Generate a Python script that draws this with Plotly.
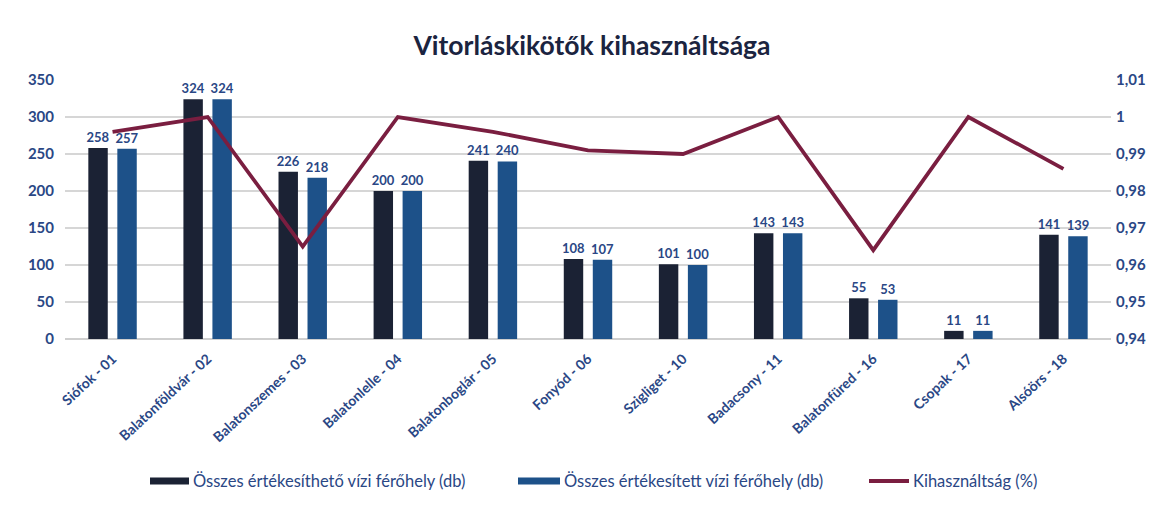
import plotly.graph_objects as go

categories = ["Siófok - 01", "Balatonföldvár - 02", "Balatonszemes - 03", "Balatonlelle - 04",
              "Balatonboglár - 05", "Fonyód - 06", "Szigliget - 10", "Badacsony - 11",
              "Balatonfüred - 16", "Csopak - 17", "Alsóörs - 18"]
available = [258, 324, 226, 200, 241, 108, 101, 143, 55, 11, 141]
sold = [257, 324, 218, 200, 240, 107, 100, 143, 53, 11, 139]
usage = [0.996, 1.0, 0.965, 1.0, 0.996, 0.991, 0.990, 1.0, 0.964, 1.0, 0.986]

left_ticks = [0, 50, 100, 150, 200, 250, 300, 350]
right_ticks = [0.94, 0.95, 0.96, 0.97, 0.98, 0.99, 1.0, 1.01]
right_ticktext = ["0,94", "0,95", "0,96", "0,97", "0,98", "0,99", "1", "1,01"]

names = ["Összes értékesíthető vízi férőhely (db)",
         "Összes értékesített vízi férőhely (db)",
         "Kihasználtság (%)"]
colors = ["#1b2234", "#1d5189", "#7a1e40"]

lab_col = "#2a4785"
FONT = "Lato"

W, H = 1159, 506
ML, MR, MT, MB = 65, 48, 80, 167
PW, PH = W - ML - MR, H - MT - MB


def px(x):
    return (x - ML) / PW


def py(y):
    return (H - MB - y) / PH


fig = go.Figure()
fig.add_trace(go.Bar(x=categories, y=available, name=names[0],
                     marker=dict(color=colors[0], line=dict(width=0)),
                     text=available, textposition="outside", constraintext="none",
                     textfont=dict(color=lab_col, size=13, family=FONT, weight=700),
                     cliponaxis=False))
fig.add_trace(go.Bar(x=categories, y=sold, name=names[1],
                     marker=dict(color=colors[1], line=dict(width=0)),
                     text=sold, textposition="outside", constraintext="none",
                     textfont=dict(color=lab_col, size=13, family=FONT, weight=700),
                     cliponaxis=False))
fig.add_trace(go.Scatter(x=categories, y=usage, name=names[2], yaxis="y2",
                         mode="lines", line=dict(color=colors[2], width=3.8)))

# legend drawn below the plot: wide symbols followed directly by the text
legend_items = [(150, 189, "rect"), (518, 560, "rect"), (869, 909, "line")]
ly = 481
for (x0, x1, kind), nm, col in zip(legend_items, names, colors):
    if kind == "rect":
        fig.add_shape(type="rect", xref="paper", yref="paper",
                      x0=px(x0), x1=px(x1), y0=py(ly + 3.5), y1=py(ly - 3.5),
                      fillcolor=col, line=dict(width=0))
    else:
        fig.add_shape(type="line", xref="paper", yref="paper",
                      x0=px(x0), x1=px(x1), y0=py(ly), y1=py(ly),
                      line=dict(color=col, width=4))
    fig.add_annotation(text=nm, xref="paper", yref="paper", x=px(x1 + 2), y=py(ly),
                       xanchor="left", yanchor="middle", showarrow=False,
                       font=dict(size=16.5, color=lab_col, family=FONT))

fig.update_layout(
    width=W, height=H,
    paper_bgcolor="white", plot_bgcolor="white",
    margin=dict(l=ML, r=MR, t=MT, b=MB),
    title=dict(text="<b>Vitorláskikötők kihasználtsága</b>", x=592 / W, xanchor="center",
               y=1 - 46 / H, yanchor="middle",
               font=dict(family=FONT, size=26.5, color="#1b2440")),
    barmode="group", bargap=0.39, bargroupgap=0.33,
    font=dict(family=FONT, color=lab_col),
    showlegend=False,
    xaxis=dict(tickangle=-43, tickfont=dict(size=14, color=lab_col, family=FONT, weight=700),
               showgrid=False, showline=False, ticks="", ticklabelstandoff=8),
    yaxis=dict(range=[0, 350], tickvals=left_ticks, showgrid=True, gridcolor="#d6d6d6",
               gridwidth=1.5, zeroline=True, zerolinecolor="#cfcfcf", zerolinewidth=1.5,
               tickfont=dict(size=15, color=lab_col, family=FONT, weight=700),
               ticks="", ticklabelstandoff=10),
    yaxis2=dict(range=[0.94, 1.01], tickvals=right_ticks, ticktext=right_ticktext,
                overlaying="y", side="right", showgrid=False, zeroline=False,
                tickfont=dict(size=15, color=lab_col, family=FONT, weight=700),
                ticks="", ticklabelstandoff=4),
)

fig.write_html("out.html", config={"displayModeBar": False},
               post_script="document.body.style.margin='0';")
